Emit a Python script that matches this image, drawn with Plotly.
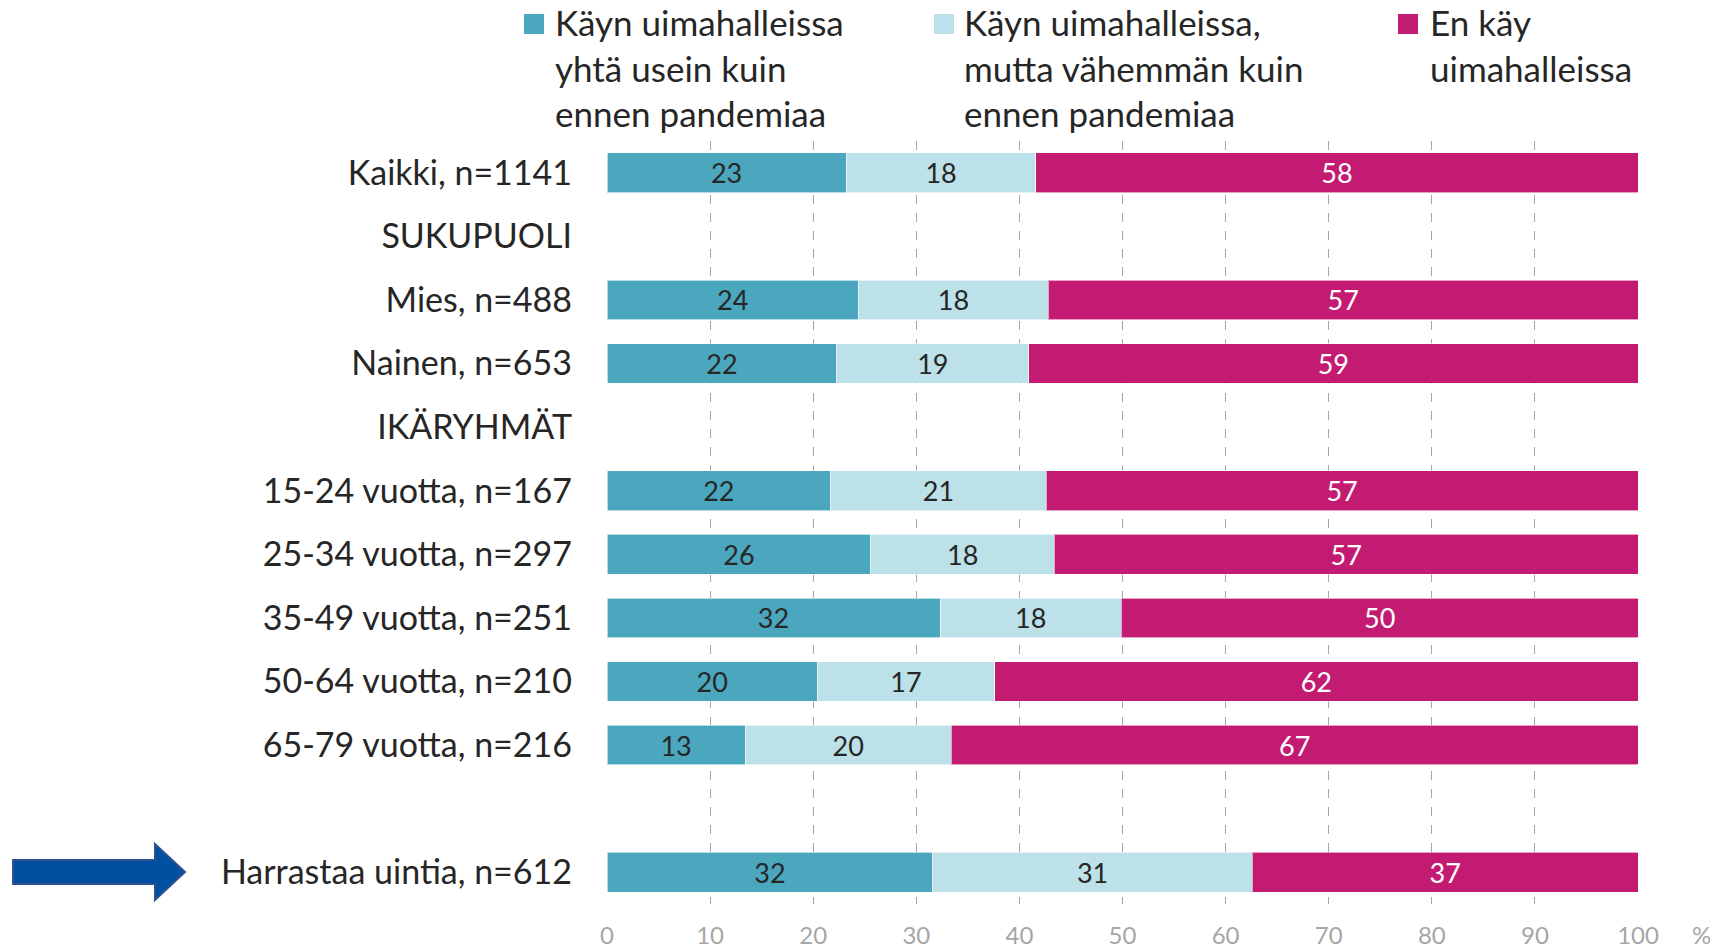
import plotly.graph_objects as go

categories = [
    "Kaikki, n=1141",
    "SUKUPUOLI",
    "Mies, n=488",
    "Nainen, n=653",
    "IKÄRYHMÄT",
    "15-24 vuotta, n=167",
    "25-34 vuotta, n=297",
    "35-49 vuotta, n=251",
    "50-64 vuotta, n=210",
    "65-79 vuotta, n=216",
    " ",
    "Harrastaa uintia, n=612",
]

same_as_before = [23.2, None, 24.4, 22.3, None, 21.7, 25.6, 32.3, 20.4, 13.4, None, 31.6]
less_than_before = [18.4, None, 18.4, 18.6, None, 20.9, 17.8, 17.6, 17.2, 20.0, None, 31.0]
not_going = [58.4, None, 57.2, 59.1, None, 57.4, 56.6, 50.1, 62.4, 66.6, None, 37.4]

series_names = [
    "Käyn uimahalleissa<br>yhtä usein kuin<br>ennen pandemiaa",
    "Käyn uimahalleissa,<br>mutta vähemmän kuin<br>ennen pandemiaa",
    "En käy<br>uimahalleissa",
]
series_colors = ["#4BA7BD", "#BDE1E9", "#C41B72"]
text_colors = ["#262626", "#262626", "#FFFFFF"]

x_ticks = [0, 10, 20, 30, 40, 50, 60, 70, 80, 90, 100]

FONT = "Lato"
W, H = 1729, 949
ML, MR, MT, MB = 607, 91, 141, 45
PW, PH = W - ML - MR, H - MT - MB


def px_x(px):
    return (px - ML) / PW


def px_y(py):
    return (H - MB - py) / PH


fig = go.Figure()
for vals, name, col, tcol in zip([same_as_before, less_than_before, not_going],
                                 series_names, series_colors, text_colors):
    fig.add_trace(go.Bar(
        y=categories, x=vals, name=name, orientation="h", showlegend=False,
        marker=dict(color=col, line=dict(color="rgba(255,255,255,0.6)", width=1)),
        texttemplate="%{x:.0f}", textposition="inside", insidetextanchor="middle",
        textangle=0, textfont=dict(family=FONT, size=27, color=tcol),
        hoverinfo="skip",
    ))

# manual legend (marker squares + multi-line text)
legend_marker_left = [524, 934, 1398]
legend_text_left = [553, 962, 1428]
shapes = []
annotations = []
for name, col, mx, tx in zip(series_names, series_colors, legend_marker_left, legend_text_left):
    shapes.append(dict(
        type="rect", xref="paper", yref="paper",
        x0=px_x(mx), x1=px_x(mx + 20), y0=px_y(34), y1=px_y(14),
        fillcolor=col, line=dict(width=0),
    ))
    annotations.append(dict(
        text=name, xref="paper", yref="paper", x=px_x(tx), y=px_y(-1),
        xanchor="left", yanchor="top", align="left", showarrow=False,
        font=dict(family=FONT, size=35, color="#262626"),
    ))

shapes.append(dict(
    type="path", xref="paper", yref="paper",
    xsizemode="pixel", ysizemode="pixel", xanchor=0, yanchor=0,
    path="M-594,20 L-452,20 L-452,4 L-422,32 L-452,60 L-452,44 L-594,44 Z",
    fillcolor="#0050A0", line=dict(color="#2F528F", width=2),
))
annotations.append(dict(
    text="%", xref="paper", yref="paper", x=1.0, y=0, xshift=63, yshift=-30,
    showarrow=False, font=dict(family=FONT, size=24, color="#A6A6A6"),
    xanchor="center", yanchor="middle",
))

fig.update_layout(
    width=W, height=H,
    barmode="stack", bargap=0.375,
    plot_bgcolor="white", paper_bgcolor="white",
    margin=dict(l=ML, r=MR, t=MT, b=MB, autoexpand=False),
    font=dict(family=FONT, color="#262626"),
    showlegend=False,
    xaxis=dict(
        range=[0, 100], tickvals=x_ticks, showgrid=True,
        gridcolor="#A6A6A6", griddash="dash", gridwidth=1,
        zeroline=False, showline=False,
        tickfont=dict(family=FONT, size=24, color="#A6A6A6"),
        ticklabelstandoff=15,
    ),
    yaxis=dict(
        categoryorder="array", categoryarray=categories, autorange="reversed",
        showgrid=False, zeroline=False, showline=False,
        tickfont=dict(family=FONT, size=34, color="#262626"),
        ticklabelstandoff=34,
    ),
    shapes=shapes,
    annotations=annotations,
)

fig.write_html("out.html", config={"displayModeBar": False},
               post_script="document.body.style.margin='0';")
